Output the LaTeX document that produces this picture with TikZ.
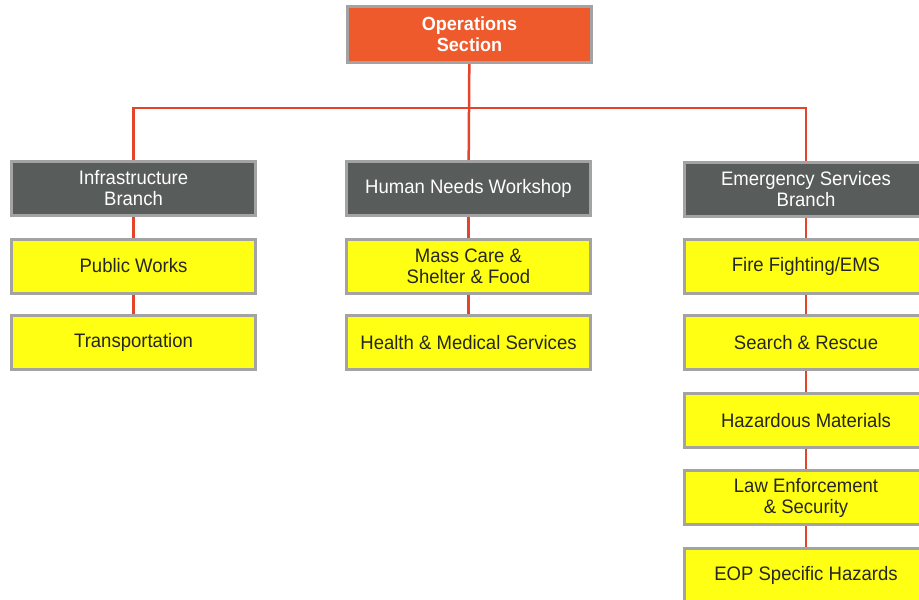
\documentclass[tikz,border=0pt]{standalone}
\usepackage{fontspec}
\setmainfont[FakeStretch=0.95]{Liberation Sans}
\usepackage{tikz}
\usetikzlibrary{calc}
\definecolor{opsred}{HTML}{EE5A2C}
\definecolor{linkred}{HTML}{E4432C}
\definecolor{branchgrey}{HTML}{585C5A}
\definecolor{framegrey}{HTML}{A3A3A3}
\definecolor{unityellow}{HTML}{FFFF14}
\tikzset{
  box/.style={draw=framegrey, line width=3pt, minimum width=244pt, minimum height=54pt,
    align=center, inner sep=2pt, font=\fontsize{19.5}{21}\selectfont},
  opsbox/.style={box, fill=opsred, text=white, minimum height=56pt, font=\fontsize{19}{21}\selectfont\bfseries},
  branchbox/.style={box, fill=branchgrey, text=white},
  unitbox/.style={box, fill=unityellow, text=black!85},
  link/.style={draw=linkred, line width=2.5pt}
}

\begin{document}
\begin{tikzpicture}[x=1pt, y=-1pt]
			%%%%% START %%%%%
			\useasboundingbox[fill=white] (0, 0) rectangle (919, 600);
			
			\node[opsbox] (ops) at (469.5, 34.5) {Operations\\Section};
			
			\node[branchbox] (inf) at (133.5, 188.5) {Infrastructure\\Branch};
			\node[branchbox] (hum) at (468.5, 188.5) {Human Needs Workshop};
			\node[branchbox] (emg) at (806, 189) {Emergency Services\\Branch};
			
			\node[unitbox] (pw) at (133.5, 266) {Public Works};
			\node[unitbox] (tr) at (133.5, 342.5) {Transportation};
			
			\node[unitbox] (mc) at (468.5, 266) {Mass Care \&\\Shelter \& Food};
			\node[unitbox] (hm) at (468.5, 342.5) {Health \& Medical Services};
			
			\node[unitbox] (ff) at (806, 266) {Fire Fighting/EMS};
			\node[unitbox] (sr) at (806, 342.5) {Search \& Rescue};
			\node[unitbox] (hz) at (806, 420.5) {Hazardous Materials};
			\node[unitbox] (le) at (806, 497.5) {Law Enforcement\\\& Security};
			\node[unitbox] (eop) at (806, 575) {EOP Specific Hazards};
			
			\coordinate (bus) at (469, 108);
			\draw[link] (ops) -- (hum);
			\draw[link] (inf.north) |- (bus) -| (emg.north);
			
			\draw[link] (inf) -- (pw);
			\draw[link] (pw) -- (tr);
			\draw[link] (hum) -- (mc);
			\draw[link] (mc) -- (hm);
			\draw[link] (emg) -- (ff);
			\draw[link] (ff) -- (sr);
			\draw[link] (sr) -- (hz);
			\draw[link] (hz) -- (le);
			\draw[link] (le) -- (eop);
			
			%%%%% END %%%%%
		\end{tikzpicture}
\end{document}
